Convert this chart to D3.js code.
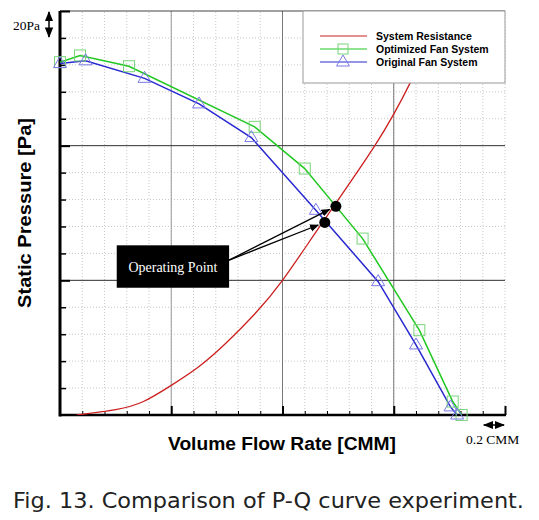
<!DOCTYPE html>
<html><head><meta charset="utf-8">
<script src="https://cdn.jsdelivr.net/npm/d3@7"></script>
<style>body{margin:0;background:#fff}svg{display:block}</style>
</head><body><div id="chart"></div>
<script>
// ---- data (x: CMM, y: Pa) ----
const seriesNames = ["System Resistance", "Optimized Fan System", "Original Fan System"];
const sysX = [0.15, 0.5, 0.75, 1.0, 1.25, 1.5, 1.75, 2.0, 2.36, 2.83, 3.15, 3.45];
const sysY = [0, 4, 10, 22, 36, 54, 75, 100, 143, 200, 247, 300];
const optX = [0, 0.18, 0.62, 1.75, 2.20, 2.72, 3.23, 3.53, 3.61];
const optY = [262, 267, 259, 214, 183, 131, 63, 10, 0];
const origX = [0, 0.23, 0.76, 1.25, 1.72, 2.30, 2.86, 3.20, 3.51, 3.57];
const origY = [261, 263, 250, 231, 206, 152, 99, 52, 6, 0];
const opX = [2.48, 2.38];
const opY = [155, 143];
const xMajor = [1, 2, 3, 4];
const yMajor = [100, 200, 300];

const W = 539, H = 520;
const svg = d3.select("#chart").append("svg").attr("width", W).attr("height", H);
const x = d3.scaleLinear().domain([0, 4]).range([60, 505]);
const y = d3.scaleLinear().domain([0, 300]).range([415, 11]);

const defs = svg.append("defs");
defs.append("marker").attr("id", "ah").attr("viewBox", "0 0 10 10").attr("refX", 9).attr("refY", 5)
  .attr("markerWidth", 7).attr("markerHeight", 7).attr("orient", "auto-start-reverse")
  .append("path").attr("d", "M0,1 L10,5 L0,9 z").attr("fill", "#000");
defs.append("clipPath").attr("id", "clip").append("rect")
  .attr("x", 60).attr("y", 11).attr("width", 445).attr("height", 404);

// minor grid
const xMinor = d3.range(1, 21).map(i => i * 0.2);
const yMinor = d3.range(1, 15).map(i => i * 20);
const g = svg.append("g");
g.selectAll(".vx").data(xMinor).join("line")
  .attr("x1", d => x(d)).attr("x2", d => x(d)).attr("y1", y(0)).attr("y2", y(300))
  .attr("stroke", "#c8c8c8").attr("stroke-width", 1).attr("stroke-dasharray", "1,2");
g.selectAll(".hy").data(yMinor).join("line")
  .attr("x1", x(0)).attr("x2", x(4)).attr("y1", d => y(d)).attr("y2", d => y(d))
  .attr("stroke", "#c8c8c8").attr("stroke-width", 1).attr("stroke-dasharray", "1,2");
// major grid
g.selectAll(".mx").data([1, 2, 3]).join("line")
  .attr("x1", d => x(d)).attr("x2", d => x(d)).attr("y1", y(0)).attr("y2", y(300))
  .attr("stroke", d => d === 1 ? "#9a9a9a" : "#777").attr("stroke-width", 1);
g.selectAll(".my").data([100, 200]).join("line")
  .attr("x1", x(0)).attr("x2", x(4)).attr("y1", d => y(d)).attr("y2", d => y(d))
  .attr("stroke", "#333").attr("stroke-width", 1);
g.append("line").attr("x1", x(0)).attr("x2", x(4)).attr("y1", y(300)).attr("y2", y(300))
  .attr("stroke", "#444").attr("stroke-width", 1);

// axes (ticks inward)
svg.append("g").attr("transform", `translate(${x(0)},0)`)
  .call(d3.axisRight(y).tickValues(yMinor.filter(v => v % 100)).tickSize(6).tickFormat(""))
  .call(a => a.select(".domain").remove()).selectAll("line").attr("stroke", "#000").attr("stroke-width", 1.5);
svg.append("g").attr("transform", `translate(${x(0)},0)`)
  .call(d3.axisRight(y).tickValues(yMajor).tickSize(10).tickFormat(""))
  .call(a => a.select(".domain").remove()).selectAll("line").attr("stroke", "#000").attr("stroke-width", 2);
svg.append("g").attr("transform", `translate(0,${y(0)})`)
  .call(d3.axisTop(x).tickValues(xMinor.filter(v => Math.abs(v - Math.round(v)) > 0.01)).tickSize(4).tickFormat(""))
  .call(a => a.select(".domain").remove()).selectAll("line").attr("stroke", "#000").attr("stroke-width", 1);
svg.append("g").attr("transform", `translate(0,${y(0)})`)
  .call(d3.axisTop(x).tickValues(xMajor).tickSize(9).tickFormat(""))
  .call(a => a.select(".domain").remove()).selectAll("line").attr("stroke", "#000").attr("stroke-width", 2);
svg.append("line").attr("x1", x(0)).attr("x2", x(0)).attr("y1", y(300)).attr("y2", y(0) + 1.5)
  .attr("stroke", "#000").attr("stroke-width", 3);
svg.append("line").attr("x1", x(0)).attr("x2", x(4) + 1).attr("y1", y(0)).attr("y2", y(0))
  .attr("stroke", "#000").attr("stroke-width", 2.5);

// curves
const plot = svg.append("g").attr("clip-path", "url(#clip)");
const smooth = d3.line().x(d => x(d[0])).y(d => y(d[1])).curve(d3.curveNatural);
plot.append("path").datum(d3.zip(sysX, sysY))
  .attr("d", smooth).attr("fill", "none").attr("stroke", "#cc2020").attr("stroke-width", 1.3);
const lin = d3.line().x(d => x(d[0])).y(d => y(d[1]));
const optD = d3.zip(optX, optY), origD = d3.zip(origX, origY);
plot.append("path").datum(optD).attr("d", lin).attr("fill", "none").attr("stroke", "#22c822").attr("stroke-width", 1.5);
plot.append("path").datum(origD).attr("d", lin).attr("fill", "none").attr("stroke", "#2828d0").attr("stroke-width", 1.5);
const sq = 11;
svg.selectAll(".sq").data(optD).join("rect")
  .attr("x", d => x(d[0]) - sq / 2).attr("y", d => y(d[1]) - sq / 2).attr("width", sq).attr("height", sq)
  .attr("fill", "none").attr("stroke", "#7ad47a").attr("stroke-width", 1);
const tri = (cx, cy) => `M${cx},${cy - 7} L${cx + 6.5},${cy + 4} L${cx - 6.5},${cy + 4} Z`;
svg.selectAll(".tri").data(origD).join("path")
  .attr("d", d => tri(x(d[0]), y(d[1]))).attr("fill", "none").attr("stroke", "#7a7ae6").attr("stroke-width", 1);

// legend
const lg = svg.append("g");
lg.append("rect").attr("x", 303).attr("y", 11).attr("width", 202).attr("height", 72)
  .attr("fill", "#fff").attr("stroke", "#999").attr("stroke-width", 1);
const lyPos = [36, 49, 62];
const lcol = ["#cc2020", "#22c822", "#2828d0"];
seriesNames.forEach((n, i) => {
  lg.append("line").attr("x1", 320).attr("x2", 367).attr("y1", lyPos[i]).attr("y2", lyPos[i])
    .attr("stroke", lcol[i]).attr("stroke-width", 1.2);
  lg.append("text").attr("x", 376).attr("y", lyPos[i] + 4).text(n)
    .attr("font-family", "Liberation Sans, Arial, sans-serif").attr("font-weight", "bold").attr("font-size", 10.5).attr("fill", "#000");
});
lg.append("rect").attr("x", 338).attr("y", 44).attr("width", 10).attr("height", 10)
  .attr("fill", "none").attr("stroke", "#7ad47a");
lg.append("path").attr("d", tri(343, 62)).attr("fill", "none").attr("stroke", "#7a7ae6");

// operating points & annotation
const bx0 = x(0.51), bx1 = x(1.52), by0 = y(126), by1 = y(94.5);
const sx = bx1, sy = y(115);
opX.forEach((v, i) => {
  const tx = x(v), ty = y(opY[i]);
  const ang = Math.atan2(ty - sy, tx - sx);
  svg.append("line").attr("x1", sx).attr("y1", sy)
    .attr("x2", tx - 7 * Math.cos(ang)).attr("y2", ty - 7 * Math.sin(ang))
    .attr("stroke", "#000").attr("stroke-width", 1.3).attr("marker-end", "url(#ah)");
});
svg.selectAll(".op").data(d3.zip(opX, opY)).join("circle")
  .attr("cx", d => x(d[0])).attr("cy", d => y(d[1])).attr("r", 5.5).attr("fill", "#000");
svg.append("rect").attr("x", bx0).attr("y", by0).attr("width", bx1 - bx0).attr("height", by1 - by0).attr("fill", "#000");
svg.append("text").attr("x", (bx0 + bx1) / 2).attr("y", (by0 + by1) / 2 + 5).attr("text-anchor", "middle")
  .attr("font-family", "Liberation Serif, Times New Roman, serif").attr("font-size", 14).attr("fill", "#fff").text("Operating Point");

// axis titles
svg.append("text").attr("transform", `translate(31,${(y(0) + y(300)) / 2}) rotate(-90)`)
  .attr("text-anchor", "middle").attr("font-family", "Liberation Sans, Arial, sans-serif")
  .attr("font-weight", "bold").attr("font-size", 18).attr("textLength", 190).attr("lengthAdjust", "spacingAndGlyphs")
  .text("Static Pressure [Pa]");
svg.append("text").attr("x", 282).attr("y", 450).attr("text-anchor", "middle")
  .attr("font-family", "Liberation Sans, Arial, sans-serif")
  .attr("font-weight", "bold").attr("font-size", 18).attr("textLength", 228).attr("lengthAdjust", "spacingAndGlyphs")
  .text("Volume Flow Rate [CMM]");

// scale indicators
svg.append("text").attr("x", 13).attr("y", 30).attr("font-family", "Liberation Serif, serif").attr("font-size", 13.5).text("20Pa");
svg.append("line").attr("x1", 49).attr("x2", 49).attr("y1", y(300) + 1).attr("y2", y(280) - 1)
  .attr("stroke", "#000").attr("stroke-width", 1.5)
  .attr("marker-start", "url(#ah)").attr("marker-end", "url(#ah)");
svg.append("line").attr("x1", x(3.8) + 1).attr("x2", x(4) - 1).attr("y1", 425).attr("y2", 425)
  .attr("stroke", "#000").attr("stroke-width", 1.5)
  .attr("marker-start", "url(#ah)").attr("marker-end", "url(#ah)");
svg.append("text").attr("x", 466).attr("y", 444).attr("font-family", "Liberation Serif, serif").attr("font-size", 13.5).text("0.2 CMM");

// caption
svg.append("text").attr("x", 13).attr("y", 508).attr("font-family", "DejaVu Sans, sans-serif")
  .attr("font-size", 21).attr("fill", "#222").attr("textLength", 511).attr("lengthAdjust", "spacingAndGlyphs")
  .text("Fig. 13. Comparison of P-Q curve experiment.");
</script></body></html>
